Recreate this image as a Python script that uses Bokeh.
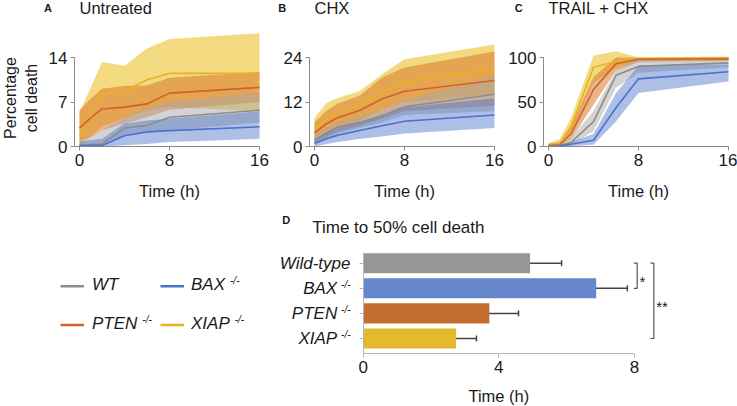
import math
from bokeh.plotting import figure
from bokeh.models import Range1d, FixedTicker, LinearAxis, ColumnDataSource, Whisker, TeeHead, Label
from bokeh.embed import file_html
from bokeh.resources import INLINE

FONT = "Liberation Sans"

# ---------------- data ----------------
times = [0, 1, 2, 4, 6, 8, 16]
strains = ["WT", "BAX", "PTEN", "XIAP"]
strain_sup = ["", "-/-", "-/-", "-/-"]

# Panel A: Untreated (mean, lower band, upper band)
A_WT = [0.15, 0.3, 0.4, 2.9, 3.3, 4.6, 5.7]
A_WT_LO = [0, 0, 0, 1.7, 2.2, 2.5, 3.8]
A_WT_HI = [0.9, 1.6, 2.5, 4.6, 6.1, 7.0, 8.5]
A_BAX = [0.15, 0.15, 0.15, 1.7, 2.3, 2.5, 3.1]
A_BAX_LO = [0, 0, 0, 0.2, 0.4, 0.7, 1.2]
A_BAX_HI = [0.8, 1.0, 1.2, 3.6, 4.1, 4.4, 5.5]
A_PTEN = [2.9, 4.5, 5.9, 6.2, 6.7, 8.4, 9.3]
A_PTEN_LO = [0.9, 1.5, 2.5, 3.6, 4.6, 5.8, 7.0]
A_PTEN_HI = [5.7, 7.5, 9.1, 9.5, 9.6, 10.8, 11.7]
A_XIAP = [1.7, 5.0, 8.4, 8.7, 10.5, 11.5, 11.5]
A_XIAP_LO = [0.3, 1.5, 3.2, 4.5, 5.7, 6.2, 5.5]
A_XIAP_HI = [5.4, 9.3, 13.3, 12.7, 15.4, 16.9, 17.8]

# Panel B: CHX
B_WT = [1.6, 3.5, 5.2, 6.5, 8.3, 10.7, 14.1]
B_WT_LO = [0.5, 2.0, 3.5, 5.0, 6.5, 8.5, 9.5]
B_WT_HI = [2.8, 5.0, 6.5, 8.0, 10.0, 12.5, 19.0]
B_BAX = [0.9, 2.0, 3.0, 4.3, 5.6, 6.8, 8.5]
B_BAX_LO = [0, 0.6, 1.2, 2.0, 2.7, 3.5, 5.0]
B_BAX_HI = [2.0, 3.7, 5.0, 6.5, 8.5, 10.5, 13.0]
B_PTEN = [3.7, 6.0, 7.7, 9.7, 12.8, 14.9, 17.8]
B_PTEN_LO = [1.0, 2.5, 4.0, 5.5, 7.5, 9.5, 11.0]
B_PTEN_HI = [6.5, 9.5, 11.5, 13.7, 18.6, 21.3, 25.6]
B_XIAP = [4.7, 7.2, 8.8, 11.0, 14.6, 17.5, 20.9]
B_XIAP_LO = [2.0, 3.5, 5.0, 7.0, 10.0, 12.0, 14.0]
B_XIAP_HI = [7.7, 11.6, 13.0, 14.9, 19.5, 23.5, 27.5]

# Panel C: TRAIL + CHX
C_WT = [0.5, 1, 4.5, 28, 80, 90, 94]
C_WT_LO = [0, 0.5, 2, 17, 66, 83, 89]
C_WT_HI = [1, 2, 9.5, 40, 85, 99, 100]
C_BAX = [0, 0.5, 2.5, 7, 43.5, 76, 84]
C_BAX_LO = [0, 0, 0.5, 2, 28, 60, 73]
C_BAX_HI = [1, 1.5, 5, 14, 60, 91, 92]
C_PTEN = [1, 2, 14, 64, 93, 98, 98.5]
C_PTEN_LO = [0, 1, 8, 47, 85, 95, 96]
C_PTEN_HI = [3, 5, 23, 78, 100, 100, 100]
C_XIAP = [1, 3, 22.7, 89, 95.5, 98.5, 99]
C_XIAP_LO = [0, 1.5, 14, 72, 88, 96, 97]
C_XIAP_HI = [3.8, 8.3, 32, 102, 107, 100, 101]

# Panel D: time to 50% cell death
d_cats = ["Wild-type", "BAX", "PTEN", "XIAP"]
d_sup = ["", "-/-", "-/-", "-/-"]
t50 = [4.92, 6.87, 3.72, 2.74]
t50_err = [0.93, 0.92, 0.86, 0.60]
sig_from = ["Wild-type", "Wild-type"]
sig_to = ["BAX", "XIAP"]
sig_text = ["*", "**"]

panel_titles = {"A": "Untreated", "B": "CHX", "C": "TRAIL + CHX"}
panel_yticks = {"A": [0, 7, 14], "B": [0, 12, 24], "C": [0, 50, 100]}
time_ticks = [0, 8, 16]
d_ticks = [0, 4, 8]

# ---------------- style / layout (page pixels) ----------------
W, H = 737, 406
LINE_COL = {"WT": "#8c8c8c", "BAX": "#4a72c8", "PTEN": "#d06428", "XIAP": "#e6b41e"}
BAND_COL = {"WT": "#a8a8a8", "BAX": "#4a72c8", "PTEN": "#d8782e", "XIAP": "#ecc43a"}
BAND_ALPHA = {"WT": 0.5, "BAX": 0.45, "PTEN": 0.55, "XIAP": 0.65}
BAR_COL = ["#969696", "#6687cb", "#c46d31", "#e4b92e"]
AXIS_COL = "#8a8a8a"
D_AXIS_COL = "#b5b5b5"
TXT = "#1a1a1a"

# pixel anchors: time 0 / time 16, value 0 / top tick
PX_T = {"A": (79, 259), "B": (314, 494), "C": (548, 728)}
PX_V = (146, 57)
YAX_GAP = 0.444          # y axis sits this far left of t = 0
D_PX_X = (362.7, 634.0)  # x = 0 / x = 8
D_PX_Y = (338.0, 262.7)  # XIAP / Wild-type rows
D_PXU_X = (D_PX_X[1] - D_PX_X[0]) / 8
D_PXU_Y = (D_PX_Y[0] - D_PX_Y[1]) / 3


def xr(v0, p0, v1, p1):
    s = (p1 - p0) / (v1 - v0)
    return Range1d(v0 - p0 / s, v0 + (W - p0) / s)


def yr(v0, p0, v1, p1):
    s = (p1 - p0) / (v1 - v0)
    return Range1d(v0 + (H - p0) / s, v0 - p0 / s)


p = figure(width=W, height=H, x_range=Range1d(0, W), y_range=Range1d(H, 0),
           x_axis_type=None, y_axis_type=None, min_border=0,
           toolbar_location=None, output_backend="svg")
p.title.visible = False
p.grid.visible = False
p.outline_line_color = None


def style_axis(ax, col):
    ax.axis_line_color = col
    ax.major_tick_line_color = col
    ax.minor_tick_line_color = col
    ax.major_tick_out = 4
    ax.major_tick_in = 0
    ax.minor_tick_out = 0
    ax.minor_tick_in = 0
    ax.major_label_text_font = FONT
    ax.major_label_text_font_size = "17px"
    ax.major_label_text_color = TXT
    ax.major_label_standoff = 3


def txt(x, y, s, size="16.5px", align="left", style="normal", angle=0.0, xr_name="default", yr_name="default"):
    p.add_layout(Label(x=x, y=y, text=s, text_font=FONT, text_font_size=size, text_font_style=style,
                       text_color=TXT, text_align=align, text_baseline="middle", angle=angle,
                       x_range_name=xr_name, y_range_name=yr_name))


panels = {
    "A": {"WT": (A_WT, A_WT_LO, A_WT_HI), "BAX": (A_BAX, A_BAX_LO, A_BAX_HI),
          "PTEN": (A_PTEN, A_PTEN_LO, A_PTEN_HI), "XIAP": (A_XIAP, A_XIAP_LO, A_XIAP_HI)},
    "B": {"WT": (B_WT, B_WT_LO, B_WT_HI), "BAX": (B_BAX, B_BAX_LO, B_BAX_HI),
          "PTEN": (B_PTEN, B_PTEN_LO, B_PTEN_HI), "XIAP": (B_XIAP, B_XIAP_LO, B_XIAP_HI)},
    "C": {"WT": (C_WT, C_WT_LO, C_WT_HI), "BAX": (C_BAX, C_BAX_LO, C_BAX_HI),
          "PTEN": (C_PTEN, C_PTEN_LO, C_PTEN_HI), "XIAP": (C_XIAP, C_XIAP_LO, C_XIAP_HI)},
}
letter_x = {"A": 43.5, "B": 277.7, "C": 514.3}

for k, series in panels.items():
    xn, yn = "x" + k, "y" + k
    ytop = panel_yticks[k][-1]
    p.extra_x_ranges[xn] = xr(0, PX_T[k][0], 16, PX_T[k][1])
    p.extra_y_ranges[yn] = yr(0, PX_V[0], ytop, PX_V[1])
    for s in ["XIAP", "PTEN", "WT", "BAX"]:
        mid, lo, hi = series[s]
        p.varea(x=times, y1=lo, y2=hi, fill_color=BAND_COL[s], fill_alpha=BAND_ALPHA[s],
                x_range_name=xn, y_range_name=yn)
    for s in ["XIAP", "PTEN", "WT", "BAX"]:
        mid, lo, hi = series[s]
        p.line(times, mid, line_color=LINE_COL[s], line_width=1.6, x_range_name=xn, y_range_name=yn)
    xa = LinearAxis(x_range_name=xn, y_range_name=yn, fixed_location=0,
                    bounds=(-YAX_GAP, 16), ticker=FixedTicker(ticks=time_ticks))
    ya = LinearAxis(x_range_name=xn, y_range_name=yn, fixed_location=-YAX_GAP,
                    bounds=(0, ytop), ticker=FixedTicker(ticks=panel_yticks[k]))
    style_axis(xa, AXIS_COL)
    style_axis(ya, AXIS_COL)
    p.add_layout(xa, "below")
    p.add_layout(ya, "left")
    txt(letter_x[k], 7, k, size="11px", style="bold")
    txt(0, 7.5, panel_titles[k], xr_name=xn)
    txt(8, 190, "Time (h)", align="center", xr_name=xn)

txt(9.5, 97.5, "Percentage", size="16px", align="center", angle=math.pi / 2)
txt(30.5, 97.5, "cell death", size="16px", align="center", angle=math.pi / 2)

# ---------------- legend ----------------
EMW = {"B": .667, "A": .667, "X": .667, "P": .667, "T": .611, "E": .667, "N": .722, "I": .278, "W": .944}
leg_line_x = [60, 160]
leg_line_len = 23.5
leg_text_x = [91.5, 190.5]
leg_row_y = [285.7, 324.5]
for i, s in enumerate(strains):
    r, c = divmod(i, 2)
    p.line([leg_line_x[c], leg_line_x[c] + leg_line_len], [leg_row_y[r], leg_row_y[r]],
           line_color=LINE_COL[s], line_width=2.5)
    txt(leg_text_x[c], leg_row_y[r] - 1.5, s, size="17px", style="italic")
    if strain_sup[i]:
        w = sum(EMW.get(ch, 0.6) for ch in s) * 17
        txt(leg_text_x[c] + w + 5, leg_row_y[r] - 5.5, strain_sup[i], size="10px", style="italic")

# ---------------- panel D ----------------
n = len(d_cats)
ypos = [n - 1 - i for i in range(n)]
p.extra_x_ranges["xD"] = xr(0, D_PX_X[0], 8, D_PX_X[1])
p.extra_y_ranges["yD"] = yr(0, D_PX_Y[0], n - 1, D_PX_Y[1])
src = ColumnDataSource(dict(y=ypos, v=t50,
                            lo=[m - e for m, e in zip(t50, t50_err)],
                            hi=[m + e for m, e in zip(t50, t50_err)],
                            c=BAR_COL))
p.hbar(y="y", left=0, right="v", height=0.8, fill_color="c", line_color=None, source=src,
       x_range_name="xD", y_range_name="yD")
ERR = "#444444"
p.add_layout(Whisker(source=src, base="y", lower="lo", upper="hi", dimension="width",
                     line_color=ERR, line_width=1.5, x_range_name="xD", y_range_name="yD",
                     upper_head=TeeHead(size=6, line_color=ERR, line_width=1.5),
                     lower_head=TeeHead(size=6, line_color=ERR, line_width=1.5)))
D_YLO, D_YHI = -0.61, 3.44
dxa = LinearAxis(x_range_name="xD", y_range_name="yD", fixed_location=D_YLO, bounds=(0, 8),
                 ticker=FixedTicker(ticks=d_ticks))
# category ticks carry no numeric label: they are drawn as minor ticks
dya = LinearAxis(x_range_name="xD", y_range_name="yD", fixed_location=0, bounds=(D_YLO, D_YHI),
                 ticker=FixedTicker(ticks=[], minor_ticks=ypos))
style_axis(dxa, D_AXIS_COL)
style_axis(dya, D_AXIS_COL)
dya.minor_tick_out = 4
p.add_layout(dxa, "below")
p.add_layout(dya, "left")

sig_x0 = [7.98, 8.47]
for k in range(len(sig_text)):
    ya_ = ypos[d_cats.index(sig_from[k])]
    yb_ = ypos[d_cats.index(sig_to[k])]
    x0 = sig_x0[k]
    x1 = x0 + 0.1
    p.line([x0, x1, x1, x0], [ya_, ya_, yb_, yb_], line_color="#555555", line_width=1.2,
           x_range_name="xD", y_range_name="yD")
    txt(x1 + 0.07, (ya_ + yb_) / 2 - 6 / D_PXU_Y, sig_text[k], size="15px", xr_name="xD", yr_name="yD")

for i, name in enumerate(d_cats):
    off = 12.7 if not d_sup[i] else 26
    txt(-off / D_PXU_X, ypos[i], name, size="17px", align="right", style="italic", xr_name="xD", yr_name="yD")
    if d_sup[i]:
        txt(-12.7 / D_PXU_X, ypos[i] + 4 / D_PXU_Y, d_sup[i], size="10px", align="right", style="italic",
            xr_name="xD", yr_name="yD")

txt(281.7, 219.2, "D", size="11px", style="bold")
txt(311.7, 226.7, "Time to 50% cell death", size="17px")
txt(4, 395.7, "Time (h)", align="center", xr_name="xD")

open("out.html", "w").write(file_html(p, INLINE))
